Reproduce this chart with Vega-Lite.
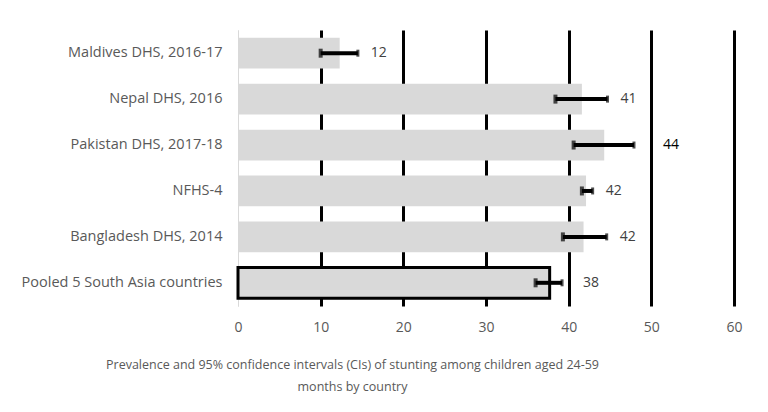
{
  "$schema": "https://vega.github.io/schema/vega-lite/v6.json",
  "width": 496,
  "height": 276,
  "autosize": "none",
  "padding": {"left": 238, "top": 30, "right": 34, "bottom": 106},
  "background": "white",
  "config": {
    "view": {"stroke": null},
    "font": "Open Sans",
    "axis": {"labelFont": "Open Sans", "titleFont": "Open Sans"}
  },
  "data": {
    "values": [
      {"country": "Maldives DHS, 2016-17", "prev": 12.3, "lower": 10.0, "upper": 14.5, "label": "12", "pooled": "no"},
      {"country": "Nepal DHS, 2016", "prev": 41.6, "lower": 38.4, "upper": 44.7, "label": "41", "pooled": "no"},
      {"country": "Pakistan DHS, 2017-18", "prev": 44.3, "lower": 40.6, "upper": 47.9, "label": "44", "pooled": "no"},
      {"country": "NFHS-4", "prev": 42.1, "lower": 41.6, "upper": 42.9, "label": "42", "pooled": "no"},
      {"country": "Bangladesh DHS, 2014", "prev": 41.8, "lower": 39.3, "upper": 44.6, "label": "42", "pooled": "no"},
      {"country": "Pooled 5 South Asia countries", "prev": 37.7, "lower": 36.0, "upper": 39.2, "label": "38", "pooled": "yes"}
    ]
  },
  "encoding": {
    "y": {
      "field": "country",
      "type": "nominal",
      "sort": null,
      "scale": {"paddingInner": 0.33, "paddingOuter": 0.17},
      "axis": {
        "title": null,
        "ticks": false,
        "domain": true,
        "domainColor": "#d9d9d9",
        "domainWidth": 1,
        "labelFontSize": 14.5,
        "labelLimit": 300,
        "labelColor": "#595959",
        "labelPadding": 16
      }
    }
  },
  "layer": [
    {
      "mark": {"type": "bar", "fill": "#d9d9d9"},
      "encoding": {
        "x": {
          "field": "prev",
          "type": "quantitative",
          "scale": {"domain": [0, 60], "nice": false},
          "axis": {
            "values": [0, 10, 20, 30, 40, 50, 60],
            "grid": true,
            "gridColor": {"condition": {"test": "datum.value === 0", "value": "#d9d9d9"}, "value": "black"},
            "gridWidth": {"condition": {"test": "datum.value === 0", "value": 1}, "value": 3},
            "domain": false,
            "ticks": false,
            "labelFlush": false,
            "labelFontSize": 14,
            "labelColor": "#595959",
            "labelPadding": 14,
            "title": ["Prevalence and 95% confidence intervals (CIs) of stunting among children aged 24-59", "months by country"],
            "titleFontSize": 12.5,
            "titleFontWeight": "normal",
            "titleColor": "#595959",
            "titleAnchor": "start",
            "titleAlign": "center",
            "titleX": 114,
            "titleY": 52,
            "titleBaseline": "top",
            "titleLineHeight": 22
          }
        },
        "stroke": {
          "field": "pooled",
          "type": "nominal",
          "scale": {"domain": ["no", "yes"], "range": ["transparent", "black"]},
          "legend": null
        },
        "strokeWidth": {
          "field": "pooled",
          "type": "nominal",
          "scale": {"domain": ["no", "yes"], "range": [0, 3]},
          "legend": null
        }
      }
    },
    {
      "mark": {"type": "rule", "color": "black", "strokeWidth": 4},
      "encoding": {
        "x": {"field": "lower", "type": "quantitative"},
        "x2": {"field": "upper"}
      }
    },
    {
      "mark": {"type": "tick", "color": "black", "thickness": 4, "size": 9},
      "encoding": {
        "x": {"field": "lower", "type": "quantitative"}
      }
    },
    {
      "mark": {"type": "tick", "color": "black", "thickness": 3, "size": 7},
      "encoding": {
        "x": {"field": "upper", "type": "quantitative"}
      }
    },
    {
      "transform": [{"filter": "datum.label !== '44' && datum.pooled === 'no'"}],
      "mark": {"type": "text", "align": "left", "baseline": "middle", "dx": 13, "fontSize": 14, "font": "Open Sans", "color": "#404040"},
      "encoding": {
        "x": {"field": "upper", "type": "quantitative"},
        "text": {"field": "label"}
      }
    },
    {
      "transform": [{"filter": "datum.pooled === 'yes'"}],
      "mark": {"type": "text", "align": "left", "baseline": "middle", "dx": 21, "fontSize": 14, "font": "Open Sans", "color": "#404040"},
      "encoding": {
        "x": {"field": "upper", "type": "quantitative"},
        "text": {"field": "label"}
      }
    },
    {
      "transform": [{"filter": "datum.label === '44'"}],
      "mark": {"type": "text", "align": "left", "baseline": "middle", "dx": 29, "fontSize": 14, "font": "Open Sans", "color": "black"},
      "encoding": {
        "x": {"field": "upper", "type": "quantitative"},
        "text": {"field": "label"}
      }
    }
  ]
}
